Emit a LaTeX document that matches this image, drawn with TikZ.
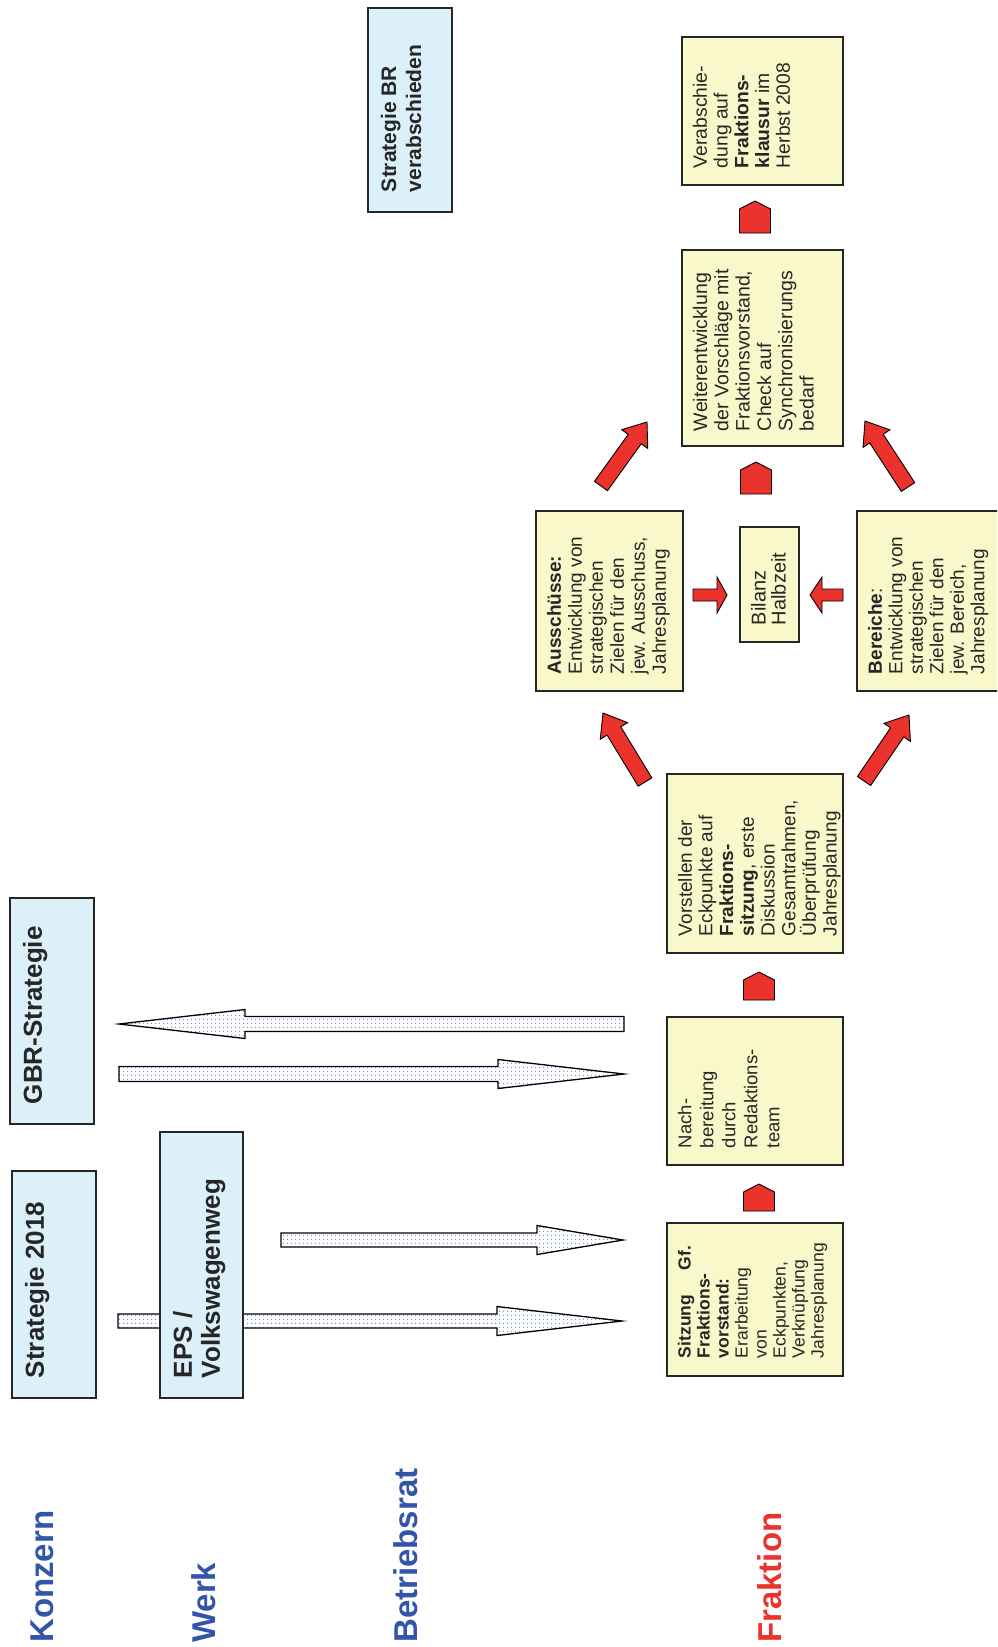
\documentclass[tikz,border=0pt]{standalone}
\usepackage{fontspec}
\setmainfont{Liberation Sans}
\usetikzlibrary{calc,patterns.meta}

% text block inside a rotated box: width, height, text
\newcommand{\boxtxt}[3]{\parbox[c][#2][t]{#1}{\raggedright #3}}
% block arrow: [style]{from}{to}{shaft half}{head half}{head length}
\newcommand{\blockarrow}[6][]{%
  \coordinate (hb) at ($(#3)!#6!(#2)$);
  \draw[#1] ($(#2)!#4!90:(#3)$) -- ($(hb)!#4!90:(#3)$) -- ($(hb)!#5!90:(#3)$) -- (#3)
    -- ($(hb)!#5!-90:(#3)$) -- ($(hb)!#4!-90:(#3)$) -- ($(#2)!#4!-90:(#3)$) -- cycle;}

\begin{document}
\begin{tikzpicture}[x=1pt, y=1pt,
    level/.style={rotate=90, anchor=west, inner sep=0pt, font=\bfseries\fontsize{33}{38}\selectfont},
    bbox/.style={draw=black!85, line width=1.3pt, fill=bluebg, rotate=90, inner xsep=20pt, inner ysep=13pt,
      text=black!85, font=\bfseries\fontsize{26}{28}\selectfont},
    ybox/.style={draw=black!85, line width=1.3pt, fill=yellowbg, rotate=90, inner xsep=17pt, inner ysep=11pt,
      text=black!85, font=\fontsize{19}{21}\selectfont},
    longarr/.style={draw=black, line width=1.3pt, preaction={fill=white},
      pattern={Dots[distance=4pt, radius=0.75pt]}, pattern color=dotblue},
    redarr/.style={draw=black, line width=0.9pt, fill=arrowred}]
        % Colors
        \definecolor{bluebg}{RGB}{220, 240, 250}
        \definecolor{yellowbg}{RGB}{248, 248, 202}
        \definecolor{dotblue}{RGB}{105, 135, 215}
        \definecolor{arrowred}{RGB}{235, 50, 45}
        \definecolor{labelblue}{RGB}{50, 85, 170}
        \definecolor{fraktred}{RGB}{235, 50, 45}

        \useasboundingbox (0,0) rectangle (997,-1647);
        \clip (0,0) rectangle (997,-1647);

        % --- Long arrows between levels (drawn first, EPS box lies on top) ---
        \coordinate (a1) at (118,-1321);  \coordinate (a2) at (622,-1321);
        \coordinate (b1) at (281,-1240);  \coordinate (b2) at (623,-1240);
        \coordinate (c1) at (624,-1024);  \coordinate (c2) at (119,-1024);
        \coordinate (d1) at (119,-1074);  \coordinate (d2) at (624,-1074);
        \blockarrow[longarr]{a1}{a2}{7pt}{14.5pt}{125pt}
        \blockarrow[longarr]{b1}{b2}{7pt}{14.5pt}{86pt}
        \blockarrow[longarr]{c1}{c2}{7.5pt}{14.5pt}{126pt}
        \blockarrow[longarr]{d1}{d2}{7.5pt}{14.5pt}{126pt}

        % --- Levels ---
        \node[level, text=labelblue] (konzern) at (42,-1643) {Konzern};
        \node[level, text=labelblue] (werk) at (204,-1643) {Werk};
        \node[level, text=labelblue] (betriebsrat) at (406,-1643) {Betriebsrat};
        \node[level, text=fraktred] (fraktion) at (770,-1643) {Fraktion};

        % --- Strategy boxes (blue) ---
        \node[bbox, minimum width=227, minimum height=84] (strat18) at (54,-1284.5)
            {\boxtxt{187pt}{58pt}{Strategie 2018}};
        \node[bbox, minimum width=226, minimum height=84] (gbr) at (52,-1011)
            {\boxtxt{186pt}{58pt}{GBR-Strategie}};
        \node[bbox, minimum width=266, minimum height=83] (eps) at (201.5,-1265)
            {\boxtxt{226pt}{57pt}{EPS /\\ Volkswagenweg}};
        \node[bbox, minimum width=204, minimum height=84, font=\bfseries\fontsize{21}{25}\selectfont] (stratbr) at (410,-110)
            {\boxtxt{164pt}{58pt}{Strategie BR\\ verabschieden}};

        % --- Fraktion: process boxes (yellow) ---
        \node[ybox, minimum width=153, minimum height=176, font=\fontsize{17.5}{19}\selectfont] (sitzung) at (755,-1299.5)
            {\boxtxt{117pt}{154pt}{\textbf{Sitzung\hspace{1.4em}Gf.}\\ \textbf{Fraktions-}\\ \textbf{vorstand:}\\ Erarbeitung\\ von\\ Eckpunkten,\\ Verknüpfung\\ Jahresplanung}};
        \node[ybox, minimum width=148, minimum height=176, font=\fontsize{18.5}{22}\selectfont] (nachb) at (755,-1091)
            {\boxtxt{114pt}{154pt}{Nach-\\ bereitung\\ durch\\ Redaktions-\\ team}};
        \node[ybox, minimum width=179, minimum height=176, font=\fontsize{19}{20.7}\selectfont] (vorst) at (755,-863.5)
            {\boxtxt{145pt}{154pt}{Vorstellen der\\ Eckpunkte auf\\ \textbf{Fraktions-}\\ \textbf{sitzung}, erste\\ Diskussion\\ Gesamtrahmen,\\ Überprüfung\\ Jahresplanung}};
        \node[ybox, minimum width=180, minimum height=147] (aussch) at (609.5,-601)
            {\boxtxt{146pt}{125pt}{\textbf{Ausschüsse:}\\ Entwicklung von\\ strategischen\\ Zielen für den\\ jew. Ausschuss,\\ Jahresplanung}};
        \node[ybox, minimum width=115, minimum height=59, font=\fontsize{20}{20}\selectfont] (bilanz) at (769.5,-584.5)
            {\boxtxt{81pt}{37pt}{Bilanz\\ Halbzeit}};
        \node[ybox, minimum width=180, minimum height=147, font=\fontsize{19}{20.5}\selectfont] (bereiche) at (930.5,-601)
            {\boxtxt{146pt}{125pt}{\textbf{Bereiche}:\\ Entwicklung von\\ strategischen\\ Zielen für den\\ jew. Bereich,\\ Jahresplanung}};
        \node[ybox, minimum width=196, minimum height=161, inner xsep=15pt, font=\fontsize{19.5}{21.3}\selectfont] (weiter) at (762.5,-348)
            {\boxtxt{166pt}{139pt}{Weiterentwicklung\\ der Vorschläge mit\\ Fraktionsvorstand,\\ Check auf\\ Synchronisierungs\\ bedarf}};
        \node[ybox, minimum width=148, minimum height=161, font=\fontsize{19.3}{20.7}\selectfont] (verab) at (762.5,-111)
            {\boxtxt{114pt}{139pt}{Verabschie-\\ dung auf\\ \textbf{Fraktions-}\\ \textbf{klausur} im\\ Herbst 2008}};

        % --- Red arrows between process steps ---
        \coordinate (p1a) at (759,-1211); \coordinate (p1b) at (759,-1184);
        \coordinate (p2a) at (759,-1000); \coordinate (p2b) at (759,-972);
        \coordinate (p3a) at (756,-494);  \coordinate (p3b) at (756,-462);
        \coordinate (p4a) at (755,-233);  \coordinate (p4b) at (755,-201);
        \blockarrow[redarr]{p1a}{p1b}{15.5pt}{15.5pt}{8pt}
        \blockarrow[redarr]{p2a}{p2b}{15.5pt}{15.5pt}{8pt}
        \blockarrow[redarr]{p3a}{p3b}{15.5pt}{15.5pt}{8pt}
        \blockarrow[redarr]{p4a}{p4b}{15.5pt}{15.5pt}{8pt}

        \coordinate (r1a) at (645,-782); \coordinate (r1b) at (603,-713);
        \coordinate (r2a) at (864,-781); \coordinate (r2b) at (909,-715);
        \coordinate (r3a) at (601,-486); \coordinate (r3b) at (647,-422);
        \coordinate (r4a) at (908,-487); \coordinate (r4b) at (865,-421);
        \blockarrow[redarr]{r1a}{r1b}{8pt}{16pt}{21pt}
        \blockarrow[redarr]{r2a}{r2b}{8pt}{16pt}{21pt}
        \blockarrow[redarr]{r3a}{r3b}{8pt}{16pt}{21pt}
        \blockarrow[redarr]{r4a}{r4b}{8pt}{16pt}{21pt}

        % into Bilanz Halbzeit
        \coordinate (s1a) at (693,-595); \coordinate (s1b) at (727,-595);
        \coordinate (s2a) at (843,-595); \coordinate (s2b) at (810,-595);
        \blockarrow[redarr]{s1a}{s1b}{6pt}{18pt}{10pt}
        \blockarrow[redarr]{s2a}{s2b}{6pt}{18pt}{12pt}
    \end{tikzpicture}
\end{document}
